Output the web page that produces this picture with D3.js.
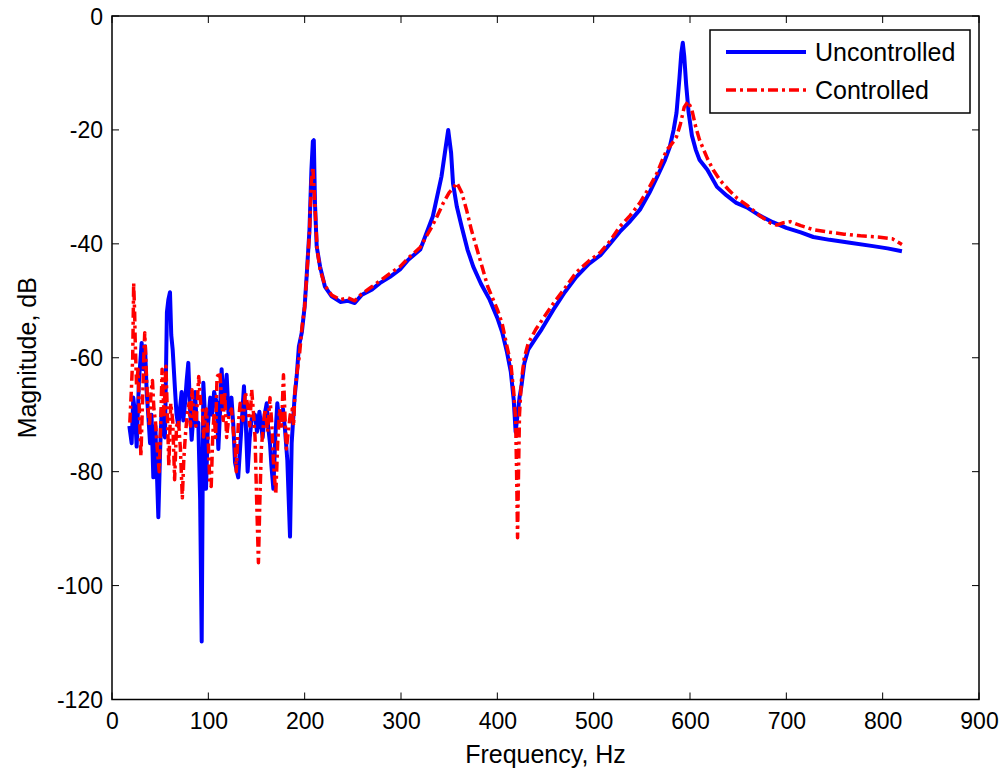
<!DOCTYPE html>
<html>
<head>
<meta charset="utf-8">
<script src="https://cdn.jsdelivr.net/npm/d3@7"></script>
<style>
  body { margin: 0; background: #fff; }
  text { font-family: "Liberation Sans", Arial, sans-serif; fill: #000; }
</style>
</head>
<body>
<svg id="chart" width="1007" height="772"></svg>
<script>
// uncontrolled response (Hz, dB)
const freqU = [
  18, 20.4, 22.1, 24, 25.6, 28, 30.8, 32.5, 34.3, 36,
  38, 39.5, 41, 42.9, 45, 48.1, 50, 51.6, 53, 55,
  57, 58.5, 60.2, 61.5, 63, 65.4, 67, 68.9, 70.5, 72.3,
  74, 75.8, 77.5, 79.2, 81, 82.7, 84.5, 86.2, 88, 89.6,
  91.5, 93.1, 94.8, 96.5, 97.6, 99.5, 102, 104, 106, 108.7,
  110.4, 112, 113.8, 116, 119, 121, 124, 126, 127.7, 131,
  134.6, 137, 139, 140.8, 143, 145, 148.4, 150.5, 153, 156.4,
  158.5, 160.6, 162, 164, 165.5, 167.5, 169.5, 171.6, 173.5, 175,
  177.5, 179.6, 182, 184.8, 186.5, 188, 189.5, 191.7, 194, 197,
  200, 202, 205, 207, 208.5, 209.5, 210.7, 212.5, 216, 221,
  228, 237, 245, 252, 259, 270, 278, 288.6, 299, 307.6,
  320, 333, 342, 346, 349, 352, 354, 358, 363, 369,
  375, 383, 392, 400, 405, 410, 414, 417, 419, 421,
  423, 425, 428, 432, 440, 446, 458, 470, 482, 495,
  507, 517, 527, 538, 548, 558, 566, 574, 579, 583,
  586, 589, 591, 592.5, 594, 596, 598.6, 602, 606, 610,
  618, 628, 638, 648, 659, 672, 686, 700, 715, 728,
  745, 766, 790, 805, 820
];
const magU = [
  -72, -75, -67, -70, -75.6, -64, -57.4, -62, -58, -66,
  -71, -75, -70, -81, -72, -88, -76, -69, -72, -74,
  -52, -49.8, -48.5, -56, -58.6, -65.6, -70, -72, -69, -66,
  -71, -68, -64, -60.9, -69, -74.4, -70, -66, -72, -71.4,
  -85, -109.8, -64.4, -70, -83, -72, -67, -70, -66, -68,
  -76, -70, -62, -69, -63, -70, -67, -72, -78.4, -81,
  -71.5, -65, -72, -80, -74, -70.7, -70, -73, -69.5, -74,
  -70, -68, -72, -75, -79, -83, -74, -68, -71, -71,
  -69, -72.6, -78, -91.4, -75, -71, -67, -63.3, -58, -55.6,
  -51, -45.8, -37.5, -27, -22, -21.8, -32.9, -40.5, -44, -47.5,
  -49.2, -50.2, -50, -50.4, -49, -48, -46.9, -45.8, -44.5, -42.8,
  -41, -35.2, -28.2, -23.5, -20, -24, -29.4, -33.5, -37, -41,
  -44, -47, -49.8, -53, -55.5, -59, -62.5, -67.4, -73, -70,
  -67, -65, -61, -58.6, -56.5, -55, -51.6, -48.5, -45.8, -43.5,
  -42, -40, -37.9, -36, -34, -31, -28.2, -25.3, -23, -20,
  -17, -11, -6.5, -4.7, -7, -12, -17, -21, -23.5, -25.3,
  -27, -30, -31.5, -32.8, -33.6, -35, -36.2, -37.2, -38, -38.8,
  -39.3, -39.8, -40.4, -40.8, -41.3
];

// controlled response (Hz, dB)
const freqC = [
  18.5, 20, 21.5, 22.5, 23.5, 24, 25.5, 27, 28.5, 30,
  32, 33, 34, 35.5, 37, 39, 40.5, 42, 43.5, 45,
  47, 49, 50.5, 52, 54, 56, 57.5, 59, 61, 63,
  65, 67, 69, 71, 73, 74.5, 76, 78, 80, 81.5,
  83, 85, 87, 88.5, 90, 92, 94, 95, 96.5, 98,
  100, 101.5, 103, 104.5, 106, 107.5, 109, 112, 114, 115.5,
  117, 119, 121.5, 124, 126, 128, 129, 131, 133, 136,
  138.5, 141, 143, 145, 147, 148.5, 150, 152, 153.5, 155,
  157, 159, 161.5, 164, 166, 167.5, 170, 172, 174, 176,
  178, 179.5, 181, 183, 185, 187, 188.5, 190, 192.5, 194.5,
  197, 200, 202, 205, 207, 208.5, 210, 211.5, 213, 216,
  221, 228, 237, 245, 252, 259, 270, 278, 288.6, 299,
  307.6, 320, 332, 338, 344, 350, 355, 358, 363, 368,
  373, 379, 385, 390, 395, 400, 405, 410, 414, 417,
  419, 420, 421, 422, 423, 425, 428, 432, 440, 446,
  458, 470, 482, 495, 507, 517, 527, 538, 548, 558,
  566, 572, 576, 580, 583, 586, 590, 594, 598, 602,
  606, 610, 618, 624, 631, 640, 649, 659, 672, 684,
  690, 697, 704, 715, 728, 742, 760, 777, 795, 810,
  820
];
const magC = [
  -71.4, -66, -60, -46.9, -52, -56.4, -65, -62, -70, -77.3,
  -66, -60, -55.6, -62, -68, -72, -66, -64, -69, -71,
  -76, -80, -72, -62, -70, -61.5, -70, -79, -68, -71,
  -81.4, -72, -71, -76, -84.6, -78, -74, -70, -68, -72,
  -65.6, -70, -72, -68, -63.3, -68, -69, -73.9, -71, -69,
  -75, -82, -82.6, -74, -69.6, -74, -63.4, -62.5, -68, -71,
  -66, -74, -70, -69, -73, -76, -80, -72, -68, -71,
  -66, -68.6, -72, -65.6, -70, -74, -84, -96, -85, -76,
  -72, -69, -73, -67, -72, -78, -84, -75, -69, -72,
  -63, -70, -76, -73, -70, -69, -72, -65.6, -62, -59.7,
  -55, -51, -46, -38, -29, -26.5, -31, -36, -41, -44.5,
  -47.3, -49, -49.8, -49.5, -50, -48.8, -47.5, -46.5, -45.2, -44,
  -42.5, -40.6, -37, -35, -32.8, -31, -30, -29.3, -31, -34,
  -37.5, -41, -44.5, -47.5, -49.5, -51.5, -54, -58, -61, -66,
  -71, -80, -91.6, -80, -70, -64, -60, -57.5, -55, -53.5,
  -50.5, -47.8, -45, -43, -41.5, -39.5, -37, -35, -32.8, -30,
  -27.5, -25, -23.5, -22.7, -22, -21.2, -19, -16, -15, -16.5,
  -19.5, -21.8, -25, -27, -28.8, -30.5, -32, -33.2, -35, -36.4,
  -36.7, -36.3, -36.1, -36.8, -37.5, -37.9, -38.3, -38.6, -38.8, -39.1,
  -40.1
];

const xTicks = [0, 100, 200, 300, 400, 500, 600, 700, 800, 900];
const yTicks = [-120, -100, -80, -60, -40, -20, 0];
const seriesNames = ["Uncontrolled", "Controlled"];

const svg = d3.select("#chart");
const pLeft = 112, pRight = 979, pTop = 16, pBottom = 699.5;

const x = d3.scaleLinear().domain([0, 900]).range([pLeft, pRight]);
const y = d3.scaleLinear().domain([-120, 0]).range([pBottom, pTop]);

const tickFont = "23px";
const tickLen = 7;
const plain = d => String(d); // hyphen minus, like the original

// tick labels via d3 axes, tick marks drawn inward on all four sides
const axisB = d3.axisBottom(x).tickValues(xTicks).tickFormat(plain).tickSize(0).tickPadding(10);
const axisL = d3.axisLeft(y).tickValues(yTicks).tickFormat(plain).tickSize(0).tickPadding(9);

svg.append("g")
    .attr("transform", `translate(0,${pBottom})`)
    .call(axisB)
    .call(g => g.select(".domain").remove())
    .selectAll("text").style("font-size", tickFont).attr("dy", "0.85em");

svg.append("g")
    .attr("transform", `translate(${pLeft},0)`)
    .call(axisL)
    .call(g => g.select(".domain").remove())
    .selectAll("text").style("font-size", tickFont).attr("dy", "0.35em");

const ticks = svg.append("g").attr("stroke", "#000").attr("stroke-width", 1);
xTicks.forEach(t => {
  ticks.append("line").attr("x1", x(t)).attr("x2", x(t)).attr("y1", pBottom).attr("y2", pBottom - tickLen);
  ticks.append("line").attr("x1", x(t)).attr("x2", x(t)).attr("y1", pTop).attr("y2", pTop + tickLen);
});
yTicks.forEach(t => {
  ticks.append("line").attr("x1", pLeft).attr("x2", pLeft + tickLen).attr("y1", y(t)).attr("y2", y(t));
  ticks.append("line").attr("x1", pRight).attr("x2", pRight - tickLen).attr("y1", y(t)).attr("y2", y(t));
});

// lines
const line = d3.line().x(d => x(d[0])).y(d => y(d[1]));

svg.append("path")
    .datum(d3.zip(freqU, magU))
    .attr("d", line)
    .attr("fill", "none")
    .attr("stroke", "#0000ff")
    .attr("stroke-width", 4)
    .attr("stroke-linejoin", "round");

svg.append("path")
    .datum(d3.zip(freqC, magC))
    .attr("d", line)
    .attr("fill", "none")
    .attr("stroke", "#ff0000")
    .attr("stroke-width", 3.5)
    .attr("stroke-dasharray", "10,4,3,4")
    .attr("stroke-linejoin", "round");

// axes box
svg.append("rect")
    .attr("x", pLeft).attr("y", pTop)
    .attr("width", pRight - pLeft).attr("height", pBottom - pTop)
    .attr("fill", "none").attr("stroke", "#000").attr("stroke-width", 1.5);

// axis labels
svg.append("text")
    .attr("x", (pLeft + pRight) / 2).attr("y", 763)
    .attr("text-anchor", "middle")
    .style("font-size", "25px")
    .text("Frequency, Hz");

svg.append("text")
    .attr("transform", `translate(36,${(pTop + pBottom) / 2}) rotate(-90)`)
    .attr("text-anchor", "middle")
    .style("font-size", "25px")
    .text("Magnitude, dB");

// legend
const leg = svg.append("g");
leg.append("rect")
    .attr("x", 710).attr("y", 30).attr("width", 260).attr("height", 83)
    .attr("fill", "#fff").attr("stroke", "#000").attr("stroke-width", 1.5);

const legStyles = [
  { color: "#0000ff", width: 4, dash: null },
  { color: "#ff0000", width: 3.5, dash: "10,4,3,4" }
];
seriesNames.forEach((name, i) => {
  const ly = 52 + i * 38;
  leg.append("line")
      .attr("x1", 726).attr("x2", 806).attr("y1", ly).attr("y2", ly)
      .attr("stroke", legStyles[i].color)
      .attr("stroke-width", legStyles[i].width)
      .attr("stroke-dasharray", legStyles[i].dash);
  leg.append("text")
      .attr("x", 815).attr("y", ly + 9)
      .style("font-size", "25px")
      .text(name);
});
</script>
</body>
</html>
